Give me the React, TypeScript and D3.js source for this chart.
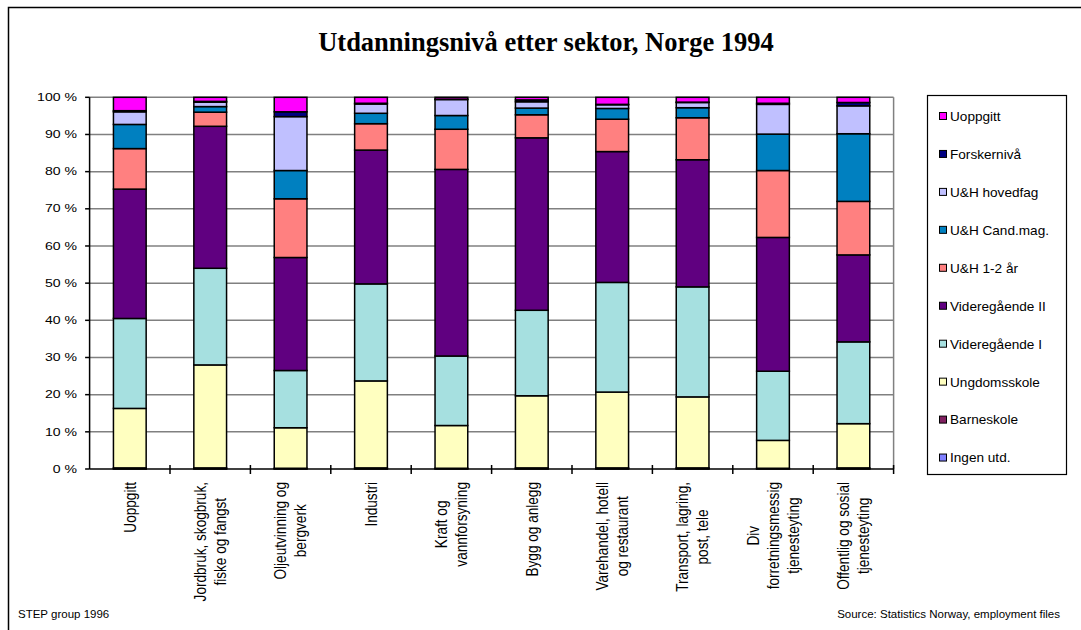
import React, { useEffect, useRef } from "react";
import * as d3 from "d3";

const title = "Utdanningsnivå etter sektor, Norge 1994";
const sectorLines: string[][] = [
  ["Uoppgitt"],
  ["Jordbruk, skogbruk,", "fiske og fangst"],
  ["Oljeutvinning og", "bergverk"],
  ["Industri"],
  ["Kraft og", "vannforsyning"],
  ["Bygg og anlegg"],
  ["Varehandel, hotell", "og restaurant"],
  ["Transport, lagring,", "post, tele"],
  ["Div", "forretningsmessig", "tjenesteyting"],
  ["Offentlig og sosial", "tjenesteyting"],
];

// series, bottom of stack to top (percent)
const ingenUtd = [0.1, 0.1, 0.1, 0.1, 0.1, 0.1, 0.1, 0.1, 0.1, 0.1];
const barneskole = [0.2, 0.2, 0.1, 0.2, 0.1, 0.2, 0.2, 0.2, 0.1, 0.2];
const ungdomsskole = [16.0, 27.7, 10.9, 23.4, 11.5, 19.4, 20.4, 19.1, 7.5, 11.9];
const videregaendeI = [24.2, 26.0, 15.4, 26.1, 18.7, 23.0, 29.5, 29.6, 18.6, 22.0];
const videregaendeII = [34.8, 38.2, 30.4, 36.0, 50.2, 46.4, 35.2, 34.2, 36.0, 23.4];
const uh12 = [10.9, 3.8, 15.8, 7.1, 10.8, 6.2, 8.7, 11.3, 18.0, 14.4];
const candMag = [6.5, 1.5, 7.6, 2.8, 3.7, 1.8, 2.9, 2.7, 9.8, 18.2];
const hovedfag = [3.4, 1.2, 14.5, 2.5, 4.3, 1.7, 1.0, 1.4, 8.0, 7.5];
const forsker = [0.3, 0.2, 1.3, 0.2, 0.1, 0.5, 0.1, 0.1, 0.3, 0.9];
const uoppgitt = [3.6, 1.1, 3.9, 1.6, 0.5, 0.7, 1.9, 1.3, 1.6, 1.4];

const seriesNames = [
  "Ingen utd.",
  "Barneskole",
  "Ungdomsskole",
  "Videregående I",
  "Videregående II",
  "U&H 1-2 år",
  "U&H Cand.mag.",
  "U&H hovedfag",
  "Forskernivå",
  "Uoppgitt",
];
const seriesValues = [
  ingenUtd,
  barneskole,
  ungdomsskole,
  videregaendeI,
  videregaendeII,
  uh12,
  candMag,
  hovedfag,
  forsker,
  uoppgitt,
];
const seriesColors = [
  "#8080FF",
  "#802060",
  "#FFFFC0",
  "#A6E0E0",
  "#600080",
  "#FF8080",
  "#0080C0",
  "#C0C0FF",
  "#000080",
  "#FF00FF",
];
const yTicks = [0, 10, 20, 30, 40, 50, 60, 70, 80, 90, 100];
const footLeft = "STEP group 1996";
const footRight = "Source: Statistics Norway, employment files";

const SANS = "'Liberation Sans', Arial, sans-serif";
const SERIF = "'Liberation Serif', 'Times New Roman', serif";

export default function App() {
  const ref = useRef<SVGSVGElement | null>(null);

  useEffect(() => {
    const svg = d3.select(ref.current);
    svg.selectAll("*").remove();

    const plotL = 89.6,
      plotR = 893.6,
      plotT = 97.3,
      plotB = 469;

    // outer frame
    svg
      .append("rect")
      .attr("x", 8.5)
      .attr("y", 7.5)
      .attr("width", 1200)
      .attr("height", 800)
      .attr("fill", "white")
      .attr("stroke", "#000")
      .attr("stroke-width", 1.5);

    svg
      .append("text")
      .attr("x", 546)
      .attr("y", 51)
      .attr("text-anchor", "middle")
      .attr("font-family", SERIF)
      .attr("font-weight", "bold")
      .attr("font-size", 26.5)
      .text(title);

    const idx = sectorLines.map((_, i) => i);
    const x = d3
      .scaleBand<number>()
      .domain(idx)
      .range([plotL, plotR])
      .paddingInner(0.593)
      .paddingOuter(0.2965);
    const y = d3.scaleLinear().domain([0, 100]).range([plotB, plotT]);
    const step = x.step();

    // gridlines
    const g = svg.append("g");
    g.selectAll("line.grid")
      .data(yTicks.filter((t) => t > 0))
      .join("line")
      .attr("x1", plotL)
      .attr("x2", plotR)
      .attr("y1", (d) => y(d))
      .attr("y2", (d) => y(d))
      .attr("stroke", "#808080")
      .attr("stroke-width", 1.5);
    g.append("line")
      .attr("x1", plotR)
      .attr("x2", plotR)
      .attr("y1", plotT)
      .attr("y2", plotB)
      .attr("stroke", "#808080")
      .attr("stroke-width", 1.5);

    // stacked bars
    const rows = idx.map((i) => {
      const o: Record<string, number> = { i };
      seriesNames.forEach((n, k) => (o[n] = seriesValues[k][i]));
      return o;
    });
    const stack = d3.stack<Record<string, number>>().keys(seriesNames)(rows);
    stack.forEach((layer, k) => {
      g.append("g")
        .selectAll("rect")
        .data(layer)
        .join("rect")
        .attr("x", (d) => x(d.data.i)!)
        .attr("width", x.bandwidth())
        .attr("y", (d) => y(d[1]))
        .attr("height", (d) => y(d[0]) - y(d[1]))
        .attr("fill", seriesColors[k])
        .attr("stroke", "#000")
        .attr("stroke-width", 1.5);
    });

    // axes
    g.append("line")
      .attr("x1", plotL)
      .attr("x2", plotL)
      .attr("y1", plotT)
      .attr("y2", plotB)
      .attr("stroke", "#000")
      .attr("stroke-width", 1.5);
    g.append("line")
      .attr("x1", plotL)
      .attr("x2", plotR)
      .attr("y1", plotB)
      .attr("y2", plotB)
      .attr("stroke", "#000")
      .attr("stroke-width", 1.5);
    g.selectAll("line.ytick")
      .data(yTicks)
      .join("line")
      .attr("x1", plotL - 4.5)
      .attr("x2", plotL)
      .attr("y1", (d) => y(d))
      .attr("y2", (d) => y(d))
      .attr("stroke", "#000")
      .attr("stroke-width", 1.5);
    g.selectAll("text.ylab")
      .data(yTicks)
      .join("text")
      .attr("transform", (d) => `translate(77,${y(d)}) scale(1.38,1)`)
      .attr("text-anchor", "end")
      .attr("dy", "0.36em")
      .attr("font-family", SANS)
      .attr("font-size", 10.2)
      .text((d) => `${d} %`);
    g.selectAll("line.xtick")
      .data(d3.range(1, sectorLines.length + 1))
      .join("line")
      .attr("x1", (d) => plotL + d * step)
      .attr("x2", (d) => plotL + d * step)
      .attr("y1", plotB - 4)
      .attr("y2", plotB + 5)
      .attr("stroke", "#000")
      .attr("stroke-width", 1.5);

    // x labels (rotated, slightly stretched horizontally)
    const sx = 1.2;
    const lh = 20 / sx;
    sectorLines.forEach((lines, i) => {
      const cx = x(i)! + x.bandwidth() / 2;
      const grp = g
        .append("g")
        .attr("transform", `translate(${cx},482) scale(${sx},1) rotate(-90)`);
      const texts = grp
        .selectAll("text")
        .data(lines)
        .join("text")
        .attr("text-anchor", "middle")
        .attr("font-family", SANS)
        .attr("font-size", 13.6)
        .attr("y", (_, j) => (j - (lines.length - 1) / 2) * lh)
        .attr("dy", "0.36em")
        .text((d) => d);
      let maxL = 0;
      texts.each(function () {
        maxL = Math.max(maxL, (this as SVGTextElement).getComputedTextLength());
      });
      texts.attr("x", -maxL / 2);
    });

    // legend
    const lg = svg.append("g");
    lg.append("rect")
      .attr("x", 927.5)
      .attr("y", 95.5)
      .attr("width", 139)
      .attr("height", 379)
      .attr("fill", "white")
      .attr("stroke", "#000")
      .attr("stroke-width", 1.2);
    const legendOrder = d3.range(seriesNames.length).reverse();
    legendOrder.forEach((k, r) => {
      const cy = 116 + r * 37.95;
      lg.append("rect")
        .attr("x", 939.5)
        .attr("y", cy - 3.5)
        .attr("width", 7)
        .attr("height", 7)
        .attr("fill", seriesColors[k])
        .attr("stroke", "#000")
        .attr("stroke-width", 1);
      lg.append("text")
        .attr("x", 950)
        .attr("y", cy)
        .attr("dy", "0.36em")
        .attr("font-family", SANS)
        .attr("font-size", 13.6)
        .text(seriesNames[k]);
    });

    // footers
    svg
      .append("text")
      .attr("x", 18)
      .attr("y", 618)
      .attr("font-family", SANS)
      .attr("font-size", 11.5)
      .text(footLeft);
    svg
      .append("text")
      .attr("x", 1060)
      .attr("y", 618)
      .attr("text-anchor", "end")
      .attr("font-family", SANS)
      .attr("font-size", 11.5)
      .text(footRight);
  }, []);

  return (
    <svg
      ref={ref}
      width={1081}
      height={630}
      style={{ position: "absolute", left: 0, top: 0, background: "white" }}
    />
  );
}
